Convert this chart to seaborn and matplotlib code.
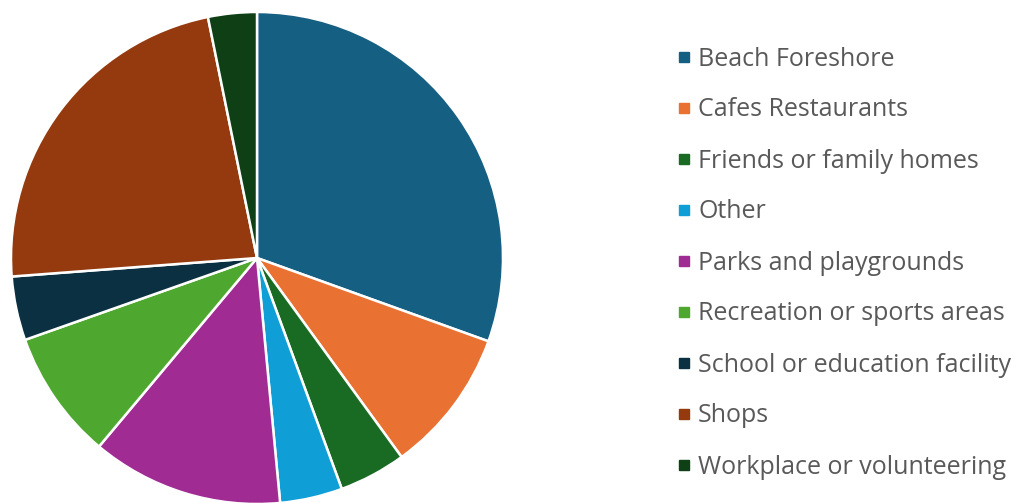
import matplotlib
matplotlib.use("Agg")
import matplotlib.pyplot as plt
from matplotlib.lines import Line2D
import seaborn as sns

categories = ["Beach Foreshore", "Cafes Restaurants", "Friends or family homes", "Other",
              "Parks and playgrounds", "Recreation or sports areas",
              "School or education facility", "Shops", "Workplace or volunteering"]
shares = [30.5, 9.5, 4.4, 4.1, 12.6, 8.5, 4.2, 23.0, 3.2]
colors = ["#156082", "#E97132", "#196B24", "#0F9ED5", "#A02B93", "#4EA72E",
          "#0B3041", "#943A0E", "#0E3F15"]

sns.set_theme(style="white")
plt.rcParams['font.family'] = ['Open Sans', 'DejaVu Sans']

W, H = 1018, 503
fig = plt.figure(figsize=(W / 100, H / 100), dpi=100)
fig.patch.set_facecolor("white")

cx, cy, r = 257, 258, 246
ax = fig.add_axes([(cx - r) / W, (H - cy - r) / H, 2 * r / W, 2 * r / H])
wedges, _ = ax.pie(shares, colors=colors, startangle=90, counterclock=False,
                   radius=1.0,
                   wedgeprops=dict(edgecolor="white", linewidth=1.8))
ax.set_xlim(-1, 1)
ax.set_ylim(-1, 1)
ax.set_axis_off()

handles = [Line2D([0], [0], marker="s", linestyle="none", markersize=6.5,
                  markerfacecolor=c, markeredgecolor=c) for c in colors]
leg = fig.legend(handles, categories, loc="upper left",
                 bbox_to_anchor=(676.5 / W, 1 - 46.5 / H), frameon=False,
                 fontsize=18, labelcolor="#595959", handlelength=0.58,
                 handletextpad=0.28, labelspacing=1.04, borderpad=0,
                 borderaxespad=0)

fig.savefig("out.png", dpi=100, facecolor="white")
